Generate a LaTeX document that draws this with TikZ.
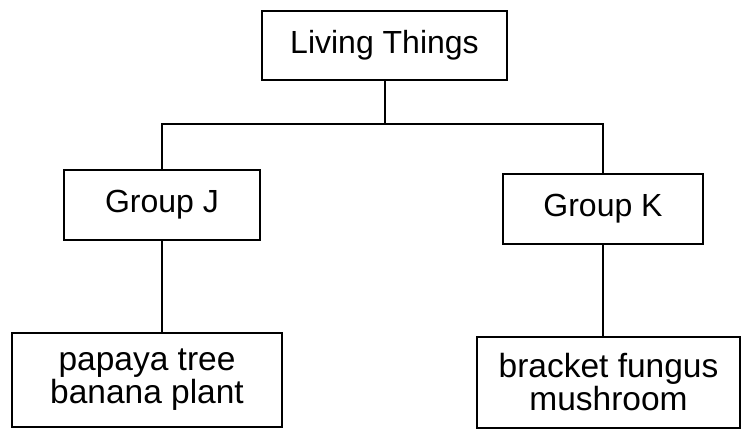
\documentclass[tikz,border=0pt]{standalone}
\usepackage{fontspec}
\setmainfont{Liberation Sans}
\begin{document}
\begin{tikzpicture}[x=1pt,y=1pt,
  box/.style={draw=black, line width=2pt, minimum width=#1, inner sep=0pt, align=center},
  link/.style={draw=black, line width=2pt},
  headtext/.style={font=\fontsize{32}{32}\selectfont},
  listtext/.style={font=\fontsize{33.5}{33}\selectfont}]
\useasboundingbox (0,0) rectangle (742,430);
\fill[white] (0,0) rectangle (742,430);

% tree nodes
\node[box=245pt, minimum height=69pt, headtext] (top) at (384.5,384.5) {Living Things};
\node[box=196pt, minimum height=70pt, headtext] (J) at (162,225) {Group J};
\node[box=200pt, minimum height=70pt, headtext] (K) at (603,221) {Group K};
\node[box=270pt, minimum height=94pt, listtext] (P) at (147,50) {papaya tree\\banana plant};
\node[box=263pt, minimum height=91pt, listtext] (B) at (608.5,47.5) {bracket fungus\\mushroom};

% branching connectors
\coordinate (bar) at (384,306);
\draw[link] (top.south) -- (top.south |- bar);
\draw[link] (J.north) |- (bar) -| (K.north);
\draw[link] (J.south) -- (J.south |- P.north);
\draw[link] (K.south) -- (K.south |- B.north);
\end{tikzpicture}
\end{document}
